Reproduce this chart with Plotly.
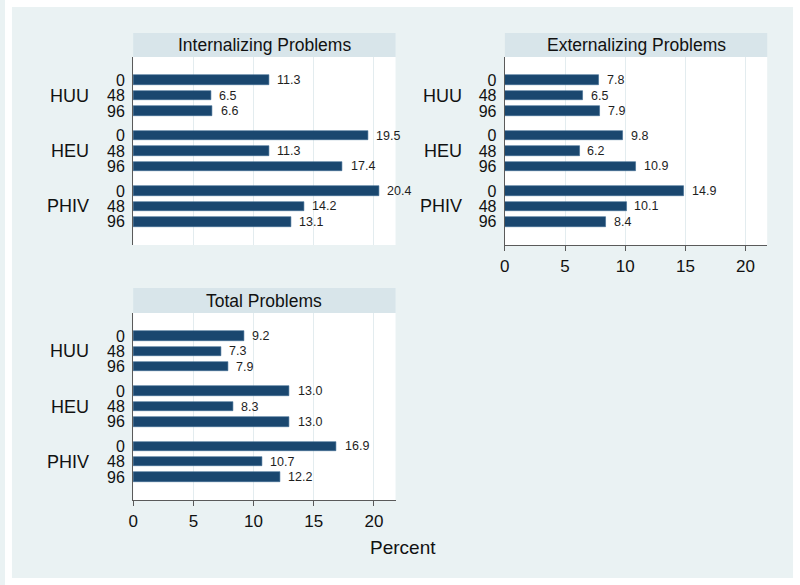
import plotly.graph_objects as go

groups = ["HUU", "HEU", "PHIV"]
weeks = ["0", "48", "96"]
panel_titles = ["Internalizing Problems", "Externalizing Problems", "Total Problems"]
internalizing = [11.3, 6.5, 6.6, 19.5, 11.3, 17.4, 20.4, 14.2, 13.1]
externalizing = [7.8, 6.5, 7.9, 9.8, 6.2, 10.9, 14.9, 10.1, 8.4]
total = [9.2, 7.3, 7.9, 13.0, 8.3, 13.0, 16.9, 10.7, 12.2]
x_ticks = [0, 5, 10, 15, 20]

W, H = 800, 585
BAR = "#1A476F"
BG = "#EAF2F3"
HDR = "#D8E5EA"
GRID = "#E3ECEF"
AX = "#5a5a5a"
FONT = "Liberation Sans, Arial, Helvetica, sans-serif"

# category layout (positions derived from group/week index)
GROUP_STRIDE = 3.6
pos = [g * GROUP_STRIDE + i for g in range(len(groups)) for i in range(len(weeks))]
tick_text = [w for _ in groups for w in weeks]
y_range = [pos[-1] + 1.5, pos[0] - 1.5]

def px(x):
    return x / W

def py(y):
    return 1 - y / H

# panel boxes in pixels: (left, right, plot_top, plot_bottom, header_top)
panels = [
    (129, 393, 57, 245, 33),
    (503, 767, 57, 245, 33),
    (129, 393, 313, 500, 288),
]
series = [internalizing, externalizing, total]
show_xticks = [False, True, True]
group_label_right = [87, 462, 87]

fig = go.Figure()
annotations = []
shapes = []

# white outer border
for (x0, y0, x1, y1) in [(0, 0, 7, H), (793, 0, W, H), (0, 0, W, 7), (0, 578, W, H)]:
    shapes.append(dict(type="rect", xref="paper", yref="paper",
                       x0=px(x0), x1=px(x1), y0=py(y1), y1=py(y0),
                       fillcolor="white", line_width=0, layer="below"))

layout_axes = {}
for k, (l, r, t, b, ht) in enumerate(panels):
    n = "" if k == 0 else str(k + 1)
    xa, ya = "x" + n, "y" + n
    vals = series[k]
    fig.add_trace(go.Bar(
        x=vals, y=pos, orientation="h", xaxis=xa, yaxis=ya,
        width=0.62, marker=dict(color=BAR, line=dict(color="#3d6a92", width=0.6)),
        hoverinfo="x", showlegend=False,
    ))
    for v, p in zip(vals, pos):
        annotations.append(dict(x=v, y=p, xref=xa, yref=ya, text=f"{v:.1f}",
                                showarrow=False, xanchor="left", yanchor="middle",
                                xshift=6, font=dict(size=12.5, color="#1e1e1e", family=FONT)))
    for g, grp in enumerate(groups):
        annotations.append(dict(x=px(group_label_right[k]), y=pos[g * 3 + 1], xref="paper", yref=ya,
                                text=grp, showarrow=False, xanchor="right", yanchor="middle",
                                font=dict(size=18, color="#111", family=FONT)))
    # header strip
    shapes.append(dict(type="rect", xref="paper", yref="paper",
                       x0=px(l), x1=px(r), y0=py(t), y1=py(ht),
                       fillcolor=HDR, line_width=0, layer="below"))
    annotations.append(dict(x=px((l + r) / 2), y=py((t + ht) / 2), xref="paper", yref="paper",
                            text=panel_titles[k], showarrow=False, xanchor="center", yanchor="middle",
                            font=dict(size=17.5, color="#111", family=FONT)))
    layout_axes["xaxis" + n] = dict(
        domain=[px(l), px(r)], anchor=ya, range=[0, 21.8],
        tickvals=x_ticks, showticklabels=show_xticks[k],
        ticks="outside" if show_xticks[k] else "", ticklen=5, tickcolor=AX,
        showline=show_xticks[k], linecolor=AX, linewidth=1.3,
        showgrid=True, gridcolor=GRID, gridwidth=1, zeroline=False,
        tickfont=dict(size=17, color="#111", family=FONT),
    )
    layout_axes["yaxis" + n] = dict(
        domain=[py(b), py(t)], anchor=xa, range=y_range,
        tickvals=pos, ticktext=tick_text, ticks="", showline=True,
        linecolor=AX, linewidth=1.3, showgrid=False, zeroline=False,
        ticklabelstandoff=4,
        tickfont=dict(size=16, color="#111", family=FONT),
    )

annotations.append(dict(x=0.5, y=py(547), xref="paper", yref="paper", text="Percent",
                        showarrow=False, xanchor="center", yanchor="middle",
                        font=dict(size=19, color="#111", family=FONT)))

fig.update_layout(
    width=W, height=H, margin=dict(l=0, r=0, t=0, b=0),
    paper_bgcolor=BG, plot_bgcolor="white",
    font=dict(family=FONT, color="#111"),
    annotations=annotations, shapes=shapes, bargap=0,
    **layout_axes,
)

fig.write_html("out.html", config={"displayModeBar": False},
               post_script="document.body.style.margin='0';document.body.style.overflow='hidden';")
